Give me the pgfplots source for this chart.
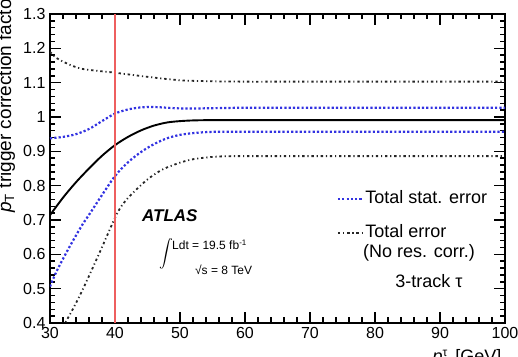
\documentclass[border=0pt]{standalone}
\usepackage{fontspec}
\setmainfont{Liberation Sans}
\usepackage{graphicx}
\usepackage{pgfplots}
\pgfplotsset{compat=1.18}

\definecolor{statblue}{RGB}{50,50,225}
\definecolor{cutred}{RGB}{238,95,95}

\tikzset{
  statline/.style={statblue, line width=2.2pt, dash pattern=on 2.2pt off 2.1pt},
  totline/.style={black!85, line width=1.8pt, dash pattern=on 2.4pt off 2.8pt on 1.2pt off 2.8pt},
}

\begin{document}
\begin{tikzpicture}
\begin{axis}[
  scale only axis, width=455pt, height=309pt,
  xmin=30, xmax=100, ymin=0.4, ymax=1.3,
  xtick={30,40,50,60,70,80,90,100},
  ytick={0.4,0.5,0.6,0.7,0.8,0.9,1.0,1.1,1.2,1.3},
  minor x tick num=4, minor y tick num=4,
  tick align=inside,
  major tick length=11pt, minor tick length=5.5pt,
  tick style={black, line width=1.5pt},
  axis line style={line width=1.5pt},
  ticklabel style={font=\fontsize{16}{18}\selectfont},
  /pgf/number format/assume math mode=true,
  yticklabel style={/pgf/number format/fixed, /pgf/number format/precision=1, xshift=-1pt},
  xticklabel style={yshift=-1pt},
  ylabel={\textit{p}\textsubscript{T} trigger correction factor},
  ylabel style={at={(axis description cs:-0.0857,1.08)}, anchor=base east, font=\fontsize{19}{21}\selectfont},
  xlabel={\textit{p}$^{\hbox{\fontsize{12}{12}\selectfont τ}}_{\hbox{\fontsize{12}{12}\selectfont T}}$ [GeV]},
  xlabel style={at={(axis description cs:1,-0.1294)}, anchor=base east, font=\fontsize{18}{20}\selectfont},
]

% total error band (no resolution correction), upper and lower edges
\addplot[totline, smooth] coordinates {
  (30,1.190) (31,1.172) (32.6,1.156) (35,1.140) (40,1.129) (45,1.117)
  (50,1.107) (55,1.104) (60,1.103) (65,1.103) (70,1.103) (80,1.103)
  (90,1.103) (100,1.103)
};
\addplot[totline, smooth] coordinates {
  (32,0.389) (33.5,0.440) (35.1,0.500) (37.7,0.608) (40.3,0.718) (41.8,0.760)
  (43.8,0.798) (45.4,0.824) (47.4,0.848) (50,0.867) (52,0.877) (54,0.882)
  (56,0.885) (58,0.886) (62,0.886) (70,0.886) (80,0.886) (90,0.886) (100,0.886)
};

% statistical error band, upper and lower edges
\addplot[statline, smooth] coordinates {
  (30,0.938) (32,0.942) (34,0.950) (36,0.965) (38,0.988) (40,1.010)
  (42,1.022) (44,1.028) (46,1.029) (48,1.027) (50,1.025) (53,1.025)
  (56,1.026) (60,1.027) (65,1.027) (70,1.027) (80,1.027) (90,1.027) (100,1.027)
};
\addplot[statline, smooth] coordinates {
  (30,0.506) (31,0.550) (32.6,0.608) (34,0.655) (35.1,0.690) (36,0.715)
  (37.7,0.764) (40,0.828) (42,0.868) (44,0.898) (46,0.921) (48,0.938)
  (50,0.948) (52,0.953) (54,0.956) (56,0.957) (60,0.957) (65,0.957)
  (70,0.957) (80,0.957) (90,0.957) (100,0.957)
};

% central correction factor
\addplot[black, line width=1.9pt, smooth] coordinates {
  (30,0.714) (32,0.765) (34,0.810) (36,0.850) (38,0.887) (40,0.918)
  (42,0.942) (44,0.961) (46,0.975) (48,0.984) (50,0.988) (52,0.990)
  (55,0.991) (60,0.991) (65,0.991) (70,0.991) (80,0.991) (90,0.991) (100,0.991)
};

% trigger threshold
\addplot[cutred, line width=1.8pt] coordinates {(40,0.4) (40,1.3)};

% legend
\draw[statline] (axis cs:74.3,0.761) -- (axis cs:78.15,0.761);
\node[anchor=base west, inner sep=0pt, font=\fontsize{18}{21}\selectfont] at (axis cs:78.5,0.749) {Total stat. error};
\draw[totline] (axis cs:74.3,0.662) -- (axis cs:78.15,0.662);
\node[anchor=base west, inner sep=0pt, font=\fontsize{18}{21}\selectfont] at (axis cs:78.5,0.650) {Total error};
\node[anchor=base west, inner sep=0pt, font=\fontsize{18}{21}\selectfont] at (axis cs:78.15,0.592) {(No res. corr.)};
\node[anchor=base west, inner sep=0pt, font=\fontsize{18}{21}\selectfont] at (axis cs:83.1,0.502) {3-track τ};

% experiment label
\node[anchor=base west, inner sep=0pt, font=\fontsize{17}{20}\selectfont\bfseries\itshape] at (axis cs:44.15,0.697) {ATLAS};
\node[inner sep=0pt] at (axis cs:47.85,0.600) {\scalebox{1.38}{$\displaystyle\int$}};
\node[anchor=base west, inner sep=0pt, font=\fontsize{12}{14}\selectfont] at (axis cs:48.77,0.613) {Ldt = 19.5 fb\textsuperscript{-1}};
\node[anchor=base west, inner sep=0pt, font=\fontsize{12}{14}\selectfont] at (axis cs:52.3,0.540) {√s = 8 TeV};
\end{axis}

% page frame: same margins round the axis box as the original figure
\pgfresetboundingbox
\path[use as bounding box] (current axis.south west) ++(-50pt,-34pt) rectangle ([shift={(13pt,14pt)}]current axis.north east);
\end{tikzpicture}
\end{document}
